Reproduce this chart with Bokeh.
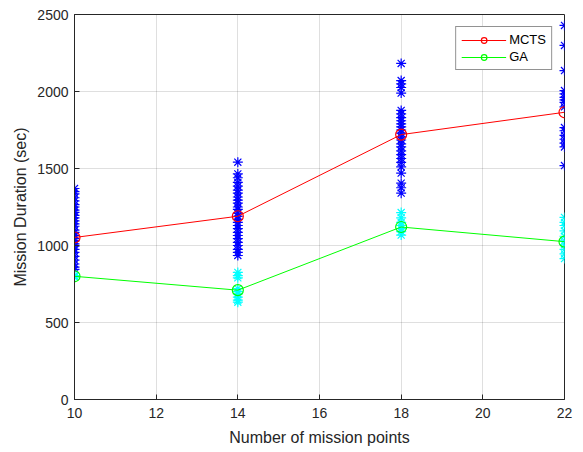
from bokeh.plotting import figure
from bokeh.models import Range1d, FixedTicker, Legend, LegendItem
from bokeh.embed import file_html
from bokeh.resources import INLINE

# ---- data ----
mission_points = [10, 14, 18, 22]
mcts_mean = [1052, 1190, 1720, 1865]
ga_mean = [800, 710, 1120, 1025]

mcts_runs_10 = [1370, 1350, 1335, 1310, 1290, 1265, 1250, 1230, 1215, 1195, 1180, 1160,
                1140, 1125, 1100, 1085, 1065, 1045, 1030, 1010, 995, 975, 955, 930, 905,
                880, 860, 845]
ga_runs_10 = [800, 796, 804, 798, 802]
mcts_runs_14 = [1541, 1465, 1440, 1410, 1385, 1360, 1340, 1315, 1295, 1275, 1250, 1235,
                1210, 1190, 1170, 1150, 1130, 1110, 1085, 1065, 1045, 1020, 1000, 975,
                955, 935]
ga_runs_14 = [825, 805, 790, 720, 700, 685, 665, 645, 632]
mcts_runs_18 = [2182, 2071, 2050, 2026, 1990, 1877, 1855, 1830, 1810, 1790, 1770, 1750,
                1730, 1705, 1685, 1660, 1640, 1615, 1590, 1565, 1540, 1510, 1470, 1405,
                1375, 1340]
ga_runs_18 = [1214, 1180, 1150, 1130, 1110, 1090, 1068]
mcts_runs_22 = [2429, 2299, 2136, 2006, 1985, 1962, 1945, 1929, 1900, 1766, 1745, 1715,
                1690, 1665, 1640, 1519]
ga_runs_22 = [1182, 1150, 1130, 1095, 1060, 1030, 1005, 975, 945, 915]

y_ticks = [0, 500, 1000, 1500, 2000, 2500]
x_ticks = [10, 12, 14, 16, 18, 20, 22]

mcts_runs = [mcts_runs_10, mcts_runs_14, mcts_runs_18, mcts_runs_22]
ga_runs = [ga_runs_10, ga_runs_14, ga_runs_18, ga_runs_22]

FONT = "Liberation Sans"
DARK = "#262626"

p = figure(width=583, height=452, output_backend="svg", toolbar_location=None,
           x_range=Range1d(10, 22), y_range=Range1d(0, 2500),
           min_border_left=74, min_border_right=19, min_border_top=14, min_border_bottom=53,
           background_fill_color="white", border_fill_color="white")
p.outline_line_color = DARK
p.outline_line_width = 1

for ax in (p.xaxis[0], p.yaxis[0]):
    ax.major_tick_in = 5
    ax.major_tick_out = 0
    ax.minor_tick_line_color = None
    ax.axis_line_color = DARK
    ax.major_tick_line_color = DARK
    ax.major_label_text_font = FONT
    ax.major_label_text_font_size = "14px"
    ax.major_label_text_color = DARK
    ax.axis_label_text_font = FONT
    ax.axis_label_text_font_size = "16px"
    ax.axis_label_text_font_style = "normal"
    ax.axis_label_text_color = DARK

p.xaxis[0].ticker = FixedTicker(ticks=x_ticks)
p.yaxis[0].ticker = FixedTicker(ticks=y_ticks)
p.xaxis[0].axis_label = "Number of mission points"
p.yaxis[0].axis_label = "Mission Duration (sec)"
p.xaxis[0].major_label_standoff = 8
p.yaxis[0].major_label_standoff = 6
p.xaxis[0].axis_label_standoff = 8

p.xgrid.ticker = FixedTicker(ticks=x_ticks)
p.ygrid.ticker = FixedTicker(ticks=y_ticks)
p.grid.grid_line_color = DARK
p.grid.grid_line_alpha = 0.15

# scatter of individual runs
for xv, runs in zip(mission_points, mcts_runs):
    p.scatter([xv] * len(runs), runs, marker="asterisk", size=10,
              line_color="#0000FF", line_width=1.2)
for xv, runs in zip(mission_points, ga_runs):
    p.scatter([xv] * len(runs), runs, marker="asterisk", size=10,
              line_color="#00FFFF", line_width=1.2)

l1 = p.line(mission_points, mcts_mean, line_color="#FF0000", line_width=1)
c1 = p.scatter(mission_points, mcts_mean, marker="circle", size=11,
               line_color="#FF0000", fill_color=None, line_width=1.2)
l2 = p.line(mission_points, ga_mean, line_color="#00FF00", line_width=1)
c2 = p.scatter(mission_points, ga_mean, marker="circle", size=11,
               line_color="#00FF00", fill_color=None, line_width=1.2)

legend = Legend(items=[LegendItem(label="MCTS", renderers=[l1, c1]),
                       LegendItem(label="GA", renderers=[l2, c2])],
                location="top_right", margin=12,
                glyph_width=45, glyph_height=14, spacing=2, padding=5,
                label_standoff=3, label_text_font=FONT, label_text_font_size="13px",
                label_text_color="black", border_line_color=DARK, border_line_width=1,
                background_fill_color="white", background_fill_alpha=1.0)
p.add_layout(legend, "center")

open("out.html", "w").write(file_html(p, INLINE))
